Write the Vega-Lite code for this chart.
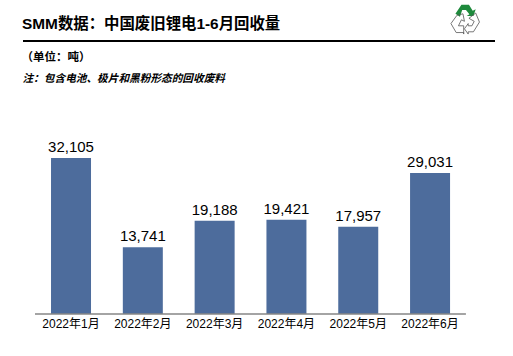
{
"$schema":"https://vega.github.io/schema/vega-lite/v6.json",
"width":472,"height":273,
"autosize":{"type":"none"},
"padding":{"left":23,"top":41,"right":18,"bottom":42},
"background":"white",
"view":{"stroke":null},
"config":{"font":"Liberation Sans, Noto Sans CJK SC"},
"title":{"text":"SMM数据：中国废旧锂电1-6月回收量","anchor":"start","frame":"group","fontSize":15.4,"fontWeight":"bold","color":"#000000","offset":-28,"dx":-1,"font":"Liberation Sans, Noto Sans CJK SC"},
"resolve":{"scale":{"x":"independent"}},
"layer":[
{"data":{"values":[
{"month":"2022年1月","volume":32105},
{"month":"2022年2月","volume":13741},
{"month":"2022年3月","volume":19188},
{"month":"2022年4月","volume":19421},
{"month":"2022年5月","volume":17957},
{"month":"2022年6月","volume":29031}]},
"layer":[
{"mark":{"type":"bar","color":"#4D6C9C"},
"encoding":{
"x":{"field":"month","type":"nominal","sort":null,"scale":{"paddingInner":0.443,"paddingOuter":0.508,"align":0.384},
"axis":{"domain":false,"ticks":false,"labelAngle":0,"labelFontSize":12,"labelColor":"#000000","labelPadding":4,"grid":false,
"title":"（单位：吨）","titleFontSize":11.5,"titleFontWeight":"bold","titleColor":"#000000","titleAlign":"left","titleAnchor":"start","titleBaseline":"middle","titleX":-2,"titleY":-257}},
"y":{"field":"volume","type":"quantitative","scale":{"domain":[0,56184],"nice":false,"zero":true},
"axis":{"domain":false,"ticks":false,"labels":false,"grid":false,
"title":"注：包含电池、极片和黑粉形态的回收废料","titleAngle":0,"titleFontSize":10.67,"titleFontStyle":"italic","titleFontWeight":"bold","titleColor":"#000000","titleAlign":"left","titleAnchor":"start","titleBaseline":"middle","titleX":-1,"titleY":37}}
}},
{"mark":{"type":"text","fontSize":15,"color":"#000000","baseline":"bottom","dy":-3},
"encoding":{
"x":{"field":"month","type":"nominal","sort":null},
"y":{"field":"volume","type":"quantitative"},
"text":{"field":"volume","type":"quantitative","format":","}
}},
{"mark":{"type":"rule","color":"#000000","strokeWidth":1.3},
"encoding":{"y":{"datum":56184}}}
]},
{"layer":[
{"data":{"values":[{"from":0.5,"to":6.5,"base":0}]},
"mark":{"type":"rule","color":"#868686","strokeWidth":1.3},
"encoding":{
"x":{"field":"from","type":"quantitative","scale":{"domain":[0.333,6.905],"nice":false,"zero":false},"axis":null},
"x2":{"field":"to"},
"y":{"field":"base","type":"quantitative"}}},
{"data":{"values":[{"pos":6.49,"level":60700}]},
"mark":{"type":"point","filled":true,"size":900,"color":"#1E8A3C","opacity":1,"strokeWidth":0,"shape":"M-0.65,-0.35 L-0.25,-0.95 L0.25,-0.95 L0.5,-0.55 L0.7,-0.65 L0.55,-0.2 L0.1,-0.2 L0.28,-0.32 L0.05,-0.6 L-0.2,-0.6 L-0.35,-0.15 Z"},
"encoding":{
"x":{"field":"pos","type":"quantitative","axis":null},
"y":{"field":"level","type":"quantitative"}}},
{"data":{"values":[{"pos":6.49,"level":60700}]},
"mark":{"type":"point","filled":false,"size":900,"color":"#555555","opacity":1,"strokeWidth":0.8,"shape":"M-0.55,-0.25 L-0.95,0.3 L-0.6,0.9 L-0.1,0.9 L-0.1,1 L-0.1,0.45 L-0.45,0.45 L-0.25,0.05 L-0.05,0.15 L-0.15,-0.35 Z M0.7,-0.4 L0.95,0.2 L0.55,0.85 L0.2,0.85 L0.2,1 L-0.05,0.65 L0.2,0.3 L0.2,0.45 L0.45,0.45 L0.6,0.15 L0.25,-0.05 Z"},
"encoding":{
"x":{"field":"pos","type":"quantitative","axis":null},
"y":{"field":"level","type":"quantitative"}}}
]}
]
}
